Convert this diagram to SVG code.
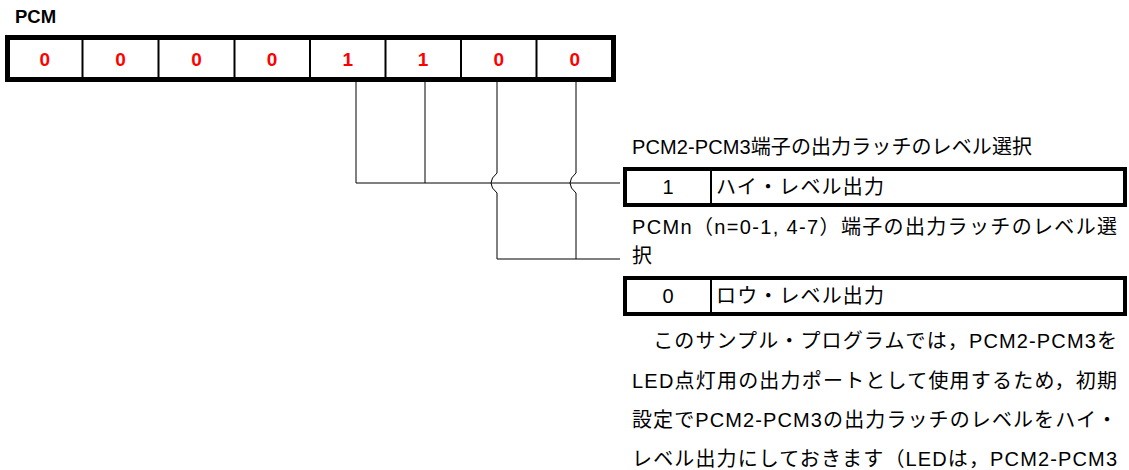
<svg xmlns="http://www.w3.org/2000/svg" width="1129" height="470" viewBox="0 0 1129 470">
<style>
text{font-family:"Liberation Sans","Noto Sans CJK JP",sans-serif;fill:#000}
.bit{font-size:19px;font-weight:bold;fill:#ff0000;text-anchor:middle}
.title{font-size:18.5px;font-weight:bold}
.t{font-size:20px}
.c{text-anchor:middle}
.frame{fill:#fff;stroke:#000}
.div{stroke:#000;stroke-width:2}
.wire{fill:none;stroke:#000;stroke-width:1}
</style>
<rect width="1129" height="470" fill="#fff"/>
<g id="register">
<text class="title" x="15" y="23">PCM</text>
<rect class="frame" x="7.5" y="37.5" width="606" height="42" stroke-width="5"/>
<line class="div" x1="82.5" y1="40" x2="82.5" y2="78"/>
<line class="div" x1="158.5" y1="40" x2="158.5" y2="78"/>
<line class="div" x1="234.5" y1="40" x2="234.5" y2="78"/>
<line class="div" x1="310" y1="40" x2="310" y2="78"/>
<line class="div" x1="385.5" y1="40" x2="385.5" y2="78"/>
<line class="div" x1="461" y1="40" x2="461" y2="78"/>
<line class="div" x1="536.5" y1="40" x2="536.5" y2="78"/>
<text class="bit" x="44.7" y="66">0</text>
<text class="bit" x="120.5" y="66">0</text>
<text class="bit" x="196.5" y="66">0</text>
<text class="bit" x="272" y="66">0</text>
<text class="bit" x="347.7" y="66">1</text>
<text class="bit" x="423" y="66">1</text>
<text class="bit" x="498.7" y="66">0</text>
<text class="bit" x="574.7" y="66">0</text>
</g>
<g id="connectors">
<path class="wire" d="M356 82 V183"/>
<path class="wire" d="M425 82 V183"/>
<path class="wire" d="M356 183 H620"/>
<path class="wire" d="M497 82 V173 Q491 178 491 183 Q491 188 497 193 V259 H620"/>
<path class="wire" d="M576 82 V173 Q570 178 570 183 Q570 188 576 193 V259"/>
</g>
<g id="high-select">
<text class="t" x="632" y="154" textLength="400" lengthAdjust="spacing">PCM2-PCM3端子の出力ラッチのレベル選択</text>
<rect class="frame" x="625" y="169" width="500" height="36" stroke-width="4"/>
<line class="div" x1="711" y1="171" x2="711" y2="203"/>
<text class="t c" x="668" y="194">1</text>
<text class="t" x="716" y="194" textLength="168" lengthAdjust="spacing">ハイ・レベル出力</text>
</g>
<g id="low-select">
<text class="t" x="632" y="234" textLength="485" lengthAdjust="spacing">PCMn（n=0-1, 4-7）端子の出力ラッチのレベル選</text>
<text class="t" x="632" y="263">択</text>
<rect class="frame" x="625" y="278" width="500" height="36" stroke-width="4"/>
<line class="div" x1="711" y1="280" x2="711" y2="312"/>
<text class="t c" x="668" y="303">0</text>
<text class="t" x="716" y="303" textLength="168" lengthAdjust="spacing">ロウ・レベル出力</text>
</g>
<g id="note">
<text class="t" x="632" y="348" textLength="485" lengthAdjust="spacing">　このサンプル・プログラムでは，PCM2-PCM3を</text>
<text class="t" x="632" y="388" textLength="485" lengthAdjust="spacing">LED点灯用の出力ポートとして使用するため，初期</text>
<text class="t" x="632" y="427" textLength="485" lengthAdjust="spacing">設定でPCM2-PCM3の出力ラッチのレベルをハイ・</text>
<text class="t" x="632" y="466" textLength="485" lengthAdjust="spacing">レベル出力にしておきます（LEDは，PCM2-PCM3</text>
</g>
</svg>
